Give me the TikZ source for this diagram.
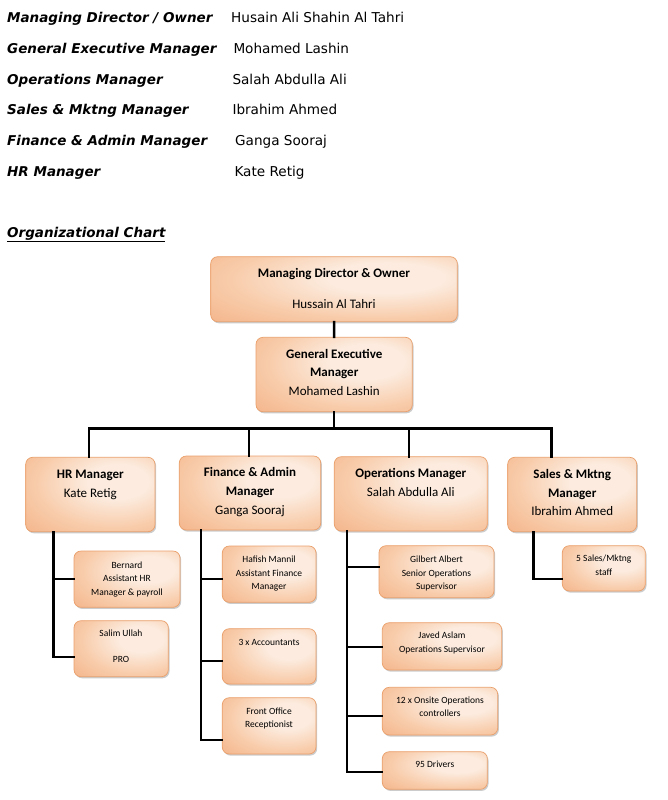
\documentclass[tikz,border=0pt]{standalone}
\usepackage{fontspec}
\setmainfont{Carlito}
\newfontfamily\verd{DejaVu Sans}
\usetikzlibrary{shadows}
\definecolor{boxin}{HTML}{FCEBDE}
\definecolor{boxmid}{HTML}{F8CBA9}
\definecolor{boxout}{HTML}{F2AD80}
\definecolor{boxline}{HTML}{EAA06C}
\pgfdeclareradialshading{peach}{\pgfpoint{12bp}{10bp}}{color(0bp)=(boxin); color(12bp)=(boxin); color(30bp)=(boxmid); color(50bp)=(boxout); color(100bp)=(boxout)}
\tikzset{
  obox/.style={draw=boxline, line width=0.7pt, rounded corners=7pt, shading=peach,
    drop shadow={shadow xshift=1.2pt, shadow yshift=-1.6pt, fill=black, opacity=0.2}},
  conn/.style={line width=2.4pt, black, line cap=rect},
  hlab/.style={anchor=base west, inner sep=0pt, font=\verd\fontsize{13.5}{15}\selectfont\bfseries\itshape},
  hname/.style={anchor=base west, inner sep=0pt, font=\verd\fontsize{13.6}{15}\selectfont},
  tt/.style={anchor=base, inner sep=0pt, font=\fontsize{13}{15}\selectfont\bfseries},
  tn/.style={anchor=base, inner sep=0pt, font=\fontsize{13}{15}\selectfont},
  ts/.style={anchor=base, inner sep=0pt, font=\fontsize{9.5}{11}\selectfont},
}
\newcommand{\obx}[5]{\node[obox, minimum width={(#4-#2)*1pt}, minimum height={(#5-#3)*1pt}, inner sep=0pt] (#1) at ({(#2+#4)/2},{(#3+#5)/2}) {};}
\begin{document}
\begin{tikzpicture}[x=1pt,y=-1pt]
\fill[white] (0,0) rectangle (667,800);
\useasboundingbox (0,0) rectangle (667,800);

% header list
\node[hlab] (l1) at (7,22.3) {Managing Director / Owner};
\node[hname] (n1) at (231,22.3) {Husain Ali Shahin Al Tahri};
\node[hlab] (l2) at (7,53.3) {General Executive Manager};
\node[hname] (n2) at (233.3,53.3) {Mohamed Lashin};
\node[hlab] (l3) at (7,84.3) {Operations Manager};
\node[hname] (n3) at (232.3,84.3) {Salah Abdulla Ali};
\node[hlab] (l4) at (7,114.3) {Sales \& Mktng Manager};
\node[hname] (n4) at (232.3,114.3) {Ibrahim Ahmed};
\node[hlab] (l5) at (7,145.3) {Finance \& Admin Manager};
\node[hname] (n5) at (235,145.3) {Ganga Sooraj};
\node[hlab] (l6) at (7,176.3) {HR Manager};
\node[hname] (n6) at (234.3,176.3) {Kate Retig};
\node[hlab] (oc) at (7,237) {\underline{Organizational Chart}};

% connector coordinates
\coordinate (bL) at (89,428.3);
\coordinate (bR) at (551.3,428.3);
\coordinate (dF) at (249,428.3);
\coordinate (dO) at (409,428.3);
\coordinate (hrv) at (53.3,656.7);
\coordinate (hrA) at (53.3,579);
\coordinate (fv) at (201,740);
\coordinate (fA) at (201,579);
\coordinate (fB) at (201,661);
\coordinate (ov) at (346.7,771.7);
\coordinate (oA) at (346.7,567);
\coordinate (oB) at (346.7,646.7);
\coordinate (oC) at (346.7,715.7);
\coordinate (sv) at (533.3,578.7);

% boxes
\obx{md}{210.7}{256.7}{457.3}{321.7}
\obx{gem}{256}{337.3}{412.3}{411.7}
\obx{hr}{25.7}{457.3}{155}{531.7}
\obx{fin}{179.3}{456}{320.7}{530}
\obx{ops}{334.3}{456.7}{487.3}{531}
\obx{sal}{507.7}{457.3}{636.7}{531.7}
\obx{bern}{74}{551}{180}{607.3}
\obx{salim}{74}{620.7}{168.3}{676.7}
\obx{haf}{222.3}{546}{316}{602.3}
\obx{acc}{222.3}{628.7}{316}{684}
\obx{fro}{222.3}{697.7}{316}{754}
\obx{gil}{379}{545.7}{494}{597.7}
\obx{jav}{382.3}{622.7}{501.7}{670}
\obx{onc}{382.3}{687.3}{497.7}{735}
\obx{drv}{382.3}{751.7}{487.3}{789.3}
\obx{five}{562.3}{545.7}{645.3}{591}

% connectors
\draw[conn] (md) -- (gem);
\draw[conn] (gem.south) -- (gem.south |- bL);
\draw[conn] (hr.north -| bL) -- (bL) -- (bR) -- (sal.north -| bR);
\draw[conn] (dF) -- (dF |- fin.north);
\draw[conn] (dO) -- (dO |- ops.north);
\draw[conn] (hr.south -| hrv) -- (hrv) -- (hrv -| salim.west);
\draw[conn] (hrA) -- (hrA -| bern.west);
\draw[conn] (fin.south -| fv) -- (fv) -- (fv -| fro.west);
\draw[conn] (fA) -- (fA -| haf.west);
\draw[conn] (fB) -- (fB -| acc.west);
\draw[conn] (ops.south -| ov) -- (ov) -- (ov -| drv.west);
\draw[conn] (oA) -- (oA -| gil.west);
\draw[conn] (oB) -- (oB -| jav.west);
\draw[conn] (oC) -- (oC -| onc.west);
\draw[conn] (sal.south -| sv) -- (sv) -- (sv -| five.west);

% box texts
\node[tt] (md1) at (334,277.3) {Managing Director \& Owner};
\node[tn] (md2) at (334,308.3) {Hussain Al Tahri};
\node[tt] (g1) at (334.2,358.3) {General Executive};
\node[tt] (g2) at (334.2,376.9) {Manager};
\node[tn] (g3) at (334.2,395.7) {Mohamed Lashin};
\node[tt] (h1) at (90.3,478) {HR Manager};
\node[tn] (h2) at (90.3,497.3) {Kate Retig};
\node[tt] (f1) at (250,476.7) {Finance \& Admin};
\node[tt] (f2) at (250,495.3) {Manager};
\node[tn] (f3) at (250,514) {Ganga Sooraj};
\node[tt] (o1) at (410.8,477.3) {Operations Manager};
\node[tn] (o2) at (410.8,496) {Salah Abdulla Ali};
\node[tt] (s1) at (572.2,478.3) {Sales \& Mktng};
\node[tt] (s2) at (572.2,497) {Manager};
\node[tn] (s3) at (572.2,515.7) {Ibrahim Ahmed};
\node[ts] (b1) at (127,568.3) {Bernard};
\node[ts] (b2) at (127,581.7) {Assistant HR};
\node[ts] (b3) at (127,595) {Manager \& payroll};
\node[ts] (sa1) at (121,636.7) {Salim Ullah};
\node[ts] (sa2) at (121,662.7) {PRO};
\node[ts] (hf1) at (269,562.7) {Hafish Mannil};
\node[ts] (hf2) at (269,576.3) {Assistant Finance};
\node[ts] (hf3) at (269,589.3) {Manager};
\node[ts] (ac1) at (269,645.3) {3 x Accountants};
\node[ts] (fo1) at (269,714) {Front Office};
\node[ts] (fo2) at (269,727.7) {Receptionist};
\node[ts] (gi1) at (436.5,562.7) {Gilbert Albert};
\node[ts] (gi2) at (436.5,576) {Senior Operations};
\node[ts] (gi3) at (436.5,589.3) {Supervisor};
\node[ts] (jv1) at (442,638.3) {Javed Aslam};
\node[ts] (jv2) at (442,652) {Operations Supervisor};
\node[ts] (on1) at (440,703) {12 x Onsite Operations};
\node[ts] (on2) at (440,716.7) {controllers};
\node[ts] (dr1) at (434.8,767.3) {95 Drivers};
\node[ts] (fv1) at (603.8,561.7) {5 Sales/Mktng};
\node[ts] (fv2) at (603.8,575.3) {staff};
\end{tikzpicture}
\end{document}
